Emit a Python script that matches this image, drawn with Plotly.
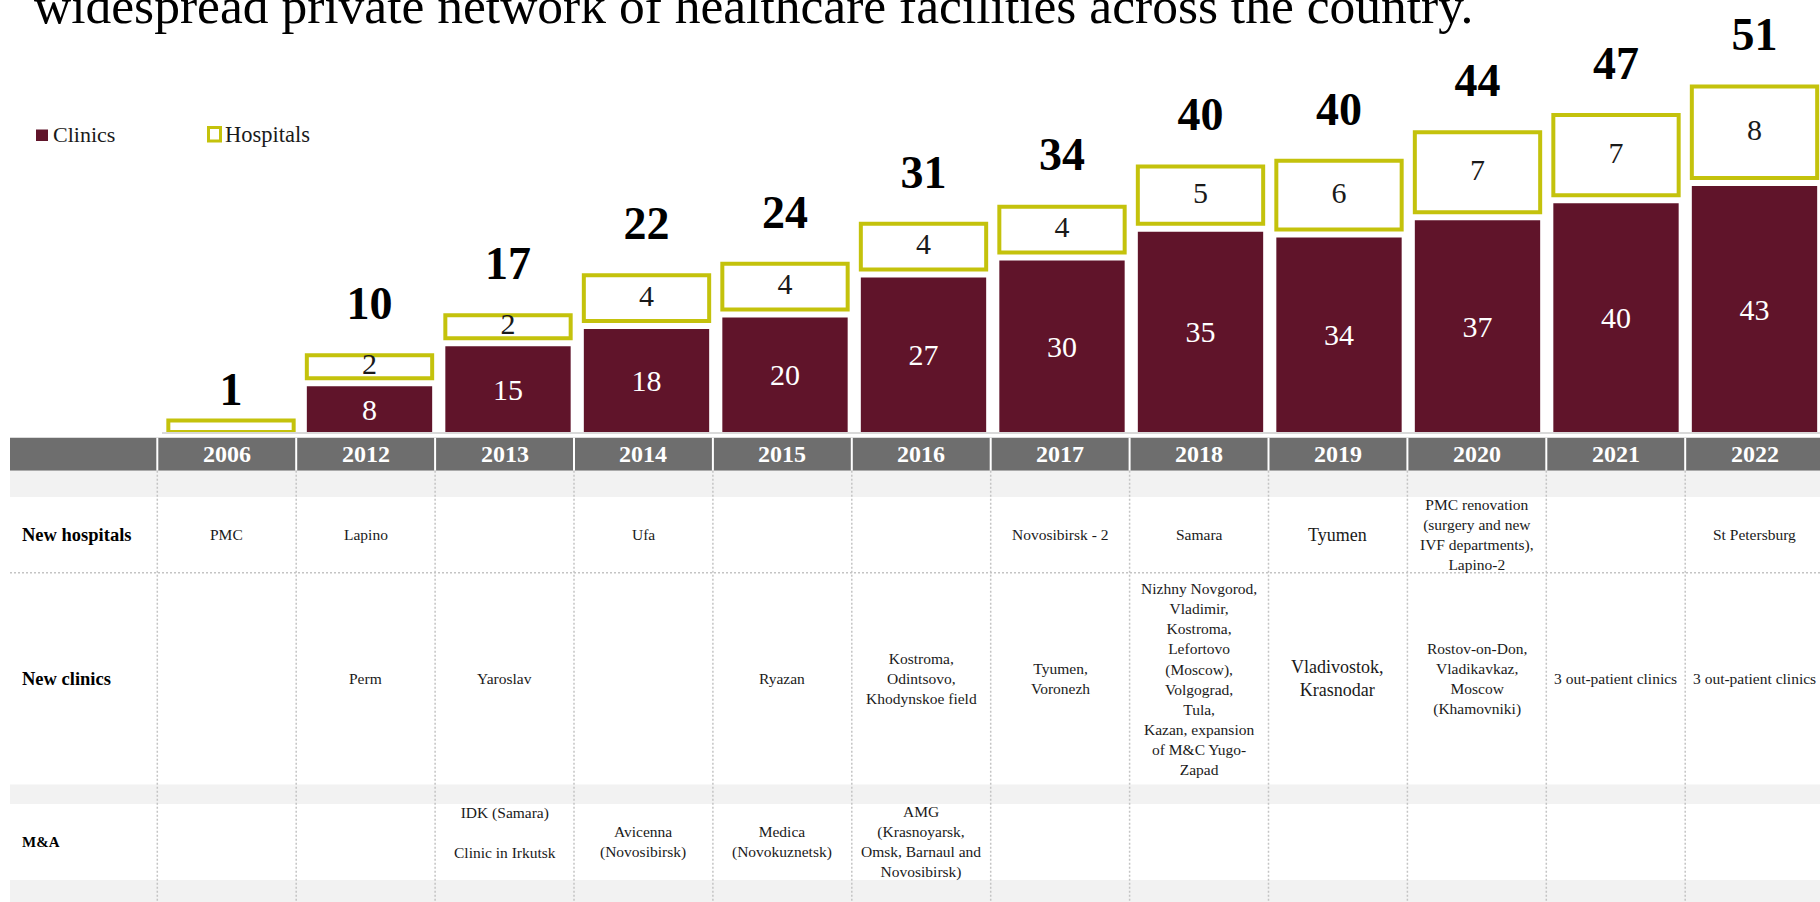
import plotly.graph_objects as go

# ---------------- data ----------------
years = ['2006', '2012', '2013', '2014', '2015', '2016', '2017', '2018', '2019', '2020', '2021', '2022']
clinics = [0, 8, 15, 18, 20, 27, 30, 35, 34, 37, 40, 43]
hospitals = [1, 2, 2, 4, 4, 4, 4, 5, 6, 7, 7, 8]
hospital_labels = ['', '2', '2', '4', '4', '4', '4', '5', '6', '7', '7', '8']

new_hospitals = ['PMC', 'Lapino', '', 'Ufa', '', '', 'Novosibirsk - 2', 'Samara', 'Tyumen',
                 'PMC renovation<br>(surgery and new<br>IVF departments),<br>Lapino-2', '', 'St Petersburg']
new_clinics = ['', 'Perm', 'Yaroslav', '', 'Ryazan',
               'Kostroma,<br>Odintsovo,<br>Khodynskoe field',
               'Tyumen,<br>Voronezh',
               'Nizhny Novgorod,<br>Vladimir,<br>Kostroma,<br>Lefortovo<br>(Moscow),<br>Volgograd,<br>Tula,<br>Kazan, expansion<br>of M&C Yugo-<br>Zapad',
               'Vladivostok,<br>Krasnodar',
               'Rostov-on-Don,<br>Vladikavkaz,<br>Moscow<br>(Khamovniki)',
               '3 out-patient clinics', '3 out-patient clinics']
m_and_a = ['', '', 'IDK (Samara)<br><br>Clinic in Irkutsk<br> ', 'Avicenna<br>(Novosibirsk)',
           'Medica<br>(Novokuznetsk)', 'AMG<br>(Krasnoyarsk,<br>Omsk, Barnaul and<br>Novosibirsk)',
           '', '', '', '', '', '']
row_labels = ['New hospitals', 'New clinics', 'M&A']
title_text = 'widespread private network of healthcare facilities across the country.'

# ---------------- style / layout constants ----------------
W, H = 1820, 902
SERIF = 'Liberation Serif'
MAROON = '#60142a'
YELLOW = '#c4c20c'
HEADER_GRAY = '#6e6e6e'
BAND_GRAY = '#f2f2f2'
DOT_GRAY = '#c4c4c4'
TEXT = '#1a1a1a'

HOSP_SCALE = 2.0     # visual height of one hospital in clinic units
SEG_GAP = 1.4        # gap between stacked segments (units)
TOTAL_OFFSET = 8.35  # total label above stack (units)
TOTAL_NUDGE = {'2006': -3.7}  # single-segment column label sits lower

BASE_PX = 432.0
PX_PER_UNIT = 5.72
BAR_LEFT_PX = 161.75
BAR_PITCH = 138.5

COL_LEFT = 157.3
COL_W = 138.9
TABLE_LEFT = 10

HEADER = (437.7, 470.7)
BAND1 = (470.7, 497.0)
ROW_HOSP = (497.0, 572.7)
ROW_CLIN = (572.7, 784.5)
BAND2 = (784.5, 804.0)
ROW_MA = (804.0, 880.0)
BAND3 = (880.0, 902.0)


def px(x):
    return x / W


def py(y):
    return 1 - y / H


# derived stack geometry
hosp_base = [c + (SEG_GAP if c > 0 else 0) for c in clinics]
hosp_height = [h * HOSP_SCALE for h in hospitals]
stack_top = [b + h for b, h in zip(hosp_base, hosp_height)]
totals = [c + h for c, h in zip(clinics, hospitals)]
clinic_labels = [str(c) if c > 0 else '' for c in clinics]
total_y = [t + TOTAL_OFFSET + TOTAL_NUDGE.get(yr, 0) for t, yr in zip(stack_top, years)]

fig = go.Figure()

fig.add_trace(go.Bar(
    x=years, y=clinics, name='Clinics', width=0.905,
    marker=dict(color=MAROON, line=dict(width=0)),
    text=clinic_labels, textposition='inside', insidetextanchor='middle',
    textangle=0, constraintext='none',
    textfont=dict(family=SERIF, size=30, color='white'),
    showlegend=False, hoverinfo='skip'))

fig.add_trace(go.Bar(
    x=years, y=hosp_height, base=hosp_base, name='Hospitals', width=0.905,
    marker=dict(color='white', line=dict(color=YELLOW, width=4)),
    showlegend=False, hoverinfo='skip'))

fig.add_trace(go.Scatter(
    x=years, y=[b + h / 2 for b, h in zip(hosp_base, hosp_height)],
    mode='text', text=hospital_labels, textposition='middle center',
    textfont=dict(family=SERIF, size=30, color=TEXT),
    cliponaxis=False, showlegend=False, hoverinfo='skip'))

fig.add_trace(go.Scatter(
    x=years, y=total_y,
    mode='text', text=['<b>%d</b>' % t for t in totals], textposition='middle center',
    textfont=dict(family=SERIF, size=46, color='black'),
    cliponaxis=False, showlegend=False, hoverinfo='skip'))

shapes = []
annotations = []

# legend (drawn manually)
shapes.append(dict(type='rect', xref='paper', yref='paper', x0=px(36), x1=px(48), y0=py(141), y1=py(129.5),
                   fillcolor=MAROON, line=dict(width=0)))
shapes.append(dict(type='rect', xref='paper', yref='paper', x0=px(208.5), x1=px(220.5), y0=py(141), y1=py(127.5),
                   fillcolor='white', line=dict(color=YELLOW, width=3)))
annotations.append(dict(text='Clinics', x=px(51), y=py(134.5), xref='paper', yref='paper', xanchor='left',
                        yanchor='middle', showarrow=False, font=dict(family=SERIF, size=22, color=TEXT)))
annotations.append(dict(text='Hospitals', x=px(223), y=py(134.5), xref='paper', yref='paper', xanchor='left',
                        yanchor='middle', showarrow=False, font=dict(family=SERIF, size=22.5, color=TEXT)))

# title (partially cut at top, as in the source slide)
annotations.append(dict(text=title_text, x=px(31.5), y=py(36), xref='paper', yref='paper', xanchor='left',
                        yanchor='bottom', showarrow=False, font=dict(family=SERIF, size=51.5, color='black')))

# table background
shapes.append(dict(type='rect', xref='paper', yref='paper', x0=px(TABLE_LEFT), x1=1, y0=py(HEADER[1]), y1=py(HEADER[0]),
                   fillcolor=HEADER_GRAY, line=dict(width=0), layer='above'))
for band in (BAND1, BAND2, BAND3):
    shapes.append(dict(type='rect', xref='paper', yref='paper', x0=px(TABLE_LEFT), x1=1, y0=py(band[1]), y1=py(band[0]),
                       fillcolor=BAND_GRAY, line=dict(width=0), layer='above'))

n = len(years)
for k in range(n):
    xb = COL_LEFT + COL_W * k
    shapes.append(dict(type='line', xref='paper', yref='paper', x0=px(xb), x1=px(xb),
                       y0=py(HEADER[0]), y1=py(HEADER[1]), line=dict(color='white', width=2), layer='above'))
    shapes.append(dict(type='line', xref='paper', yref='paper', x0=px(xb), x1=px(xb),
                       y0=py(HEADER[1]), y1=py(H), line=dict(color=DOT_GRAY, width=1.5, dash='2px,2px'),
                       layer='above'))

shapes.append(dict(type='line', xref='paper', yref='paper', x0=px(TABLE_LEFT), x1=1,
                   y0=py(ROW_HOSP[1]), y1=py(ROW_HOSP[1]), line=dict(color=DOT_GRAY, width=1.5, dash='2px,2px'),
                   layer='above'))

# header years
for i, yr in enumerate(years):
    cx = COL_LEFT + COL_W * (i + 0.5)
    annotations.append(dict(text='<b>%s</b>' % yr, x=px(cx), y=py(sum(HEADER) / 2), xref='paper', yref='paper',
                            xanchor='center', yanchor='middle', showarrow=False,
                            font=dict(family=SERIF, size=24, color='white')))

# row labels
row_specs = [(row_labels[0], ROW_HOSP, 18.5), (row_labels[1], ROW_CLIN, 18.5), (row_labels[2], ROW_MA, 15)]
for label, rng, size in row_specs:
    annotations.append(dict(text='<b>%s</b>' % label, x=px(20), y=py(sum(rng) / 2), xref='paper', yref='paper',
                            xanchor='left', yanchor='middle', showarrow=False,
                            font=dict(family=SERIF, size=size, color='black')))

LARGE_COLS = {'2019'}
for row_vals, rng in ((new_hospitals, ROW_HOSP), (new_clinics, ROW_CLIN), (m_and_a, ROW_MA)):
    for i, txt in enumerate(row_vals):
        if not txt:
            continue
        cx = COL_LEFT + COL_W * (i + 0.5)
        size = 18 if years[i] in LARGE_COLS else 15.5
        annotations.append(dict(text=txt, x=px(cx), y=py(sum(rng) / 2), xref='paper', yref='paper',
                                xanchor='center', yanchor='middle', showarrow=False, align='center',
                                font=dict(family=SERIF, size=size, color=TEXT)))

x_range_max = -0.5 + (W - BAR_LEFT_PX) / BAR_PITCH

fig.update_layout(
    width=W, height=H,
    margin=dict(l=0, r=0, t=0, b=0),
    paper_bgcolor='white', plot_bgcolor='rgba(0,0,0,0)',
    barmode='overlay',
    font=dict(family=SERIF, color=TEXT),
    xaxis=dict(type='category', domain=[BAR_LEFT_PX / W, 1], range=[-0.5, x_range_max],
               showline=True, linecolor='#d9d9d9', linewidth=2, showticklabels=False,
               showgrid=False, zeroline=False, ticks='', fixedrange=True),
    yaxis=dict(domain=[py(BASE_PX), 1], range=[0, BASE_PX / PX_PER_UNIT], visible=False,
               showgrid=False, zeroline=False, fixedrange=True),
    shapes=shapes,
    annotations=annotations,
    showlegend=False,
)

fig.write_html('out.html', config={'displayModeBar': False},
               post_script="document.body.style.margin='0';document.body.style.overflow='hidden';")
